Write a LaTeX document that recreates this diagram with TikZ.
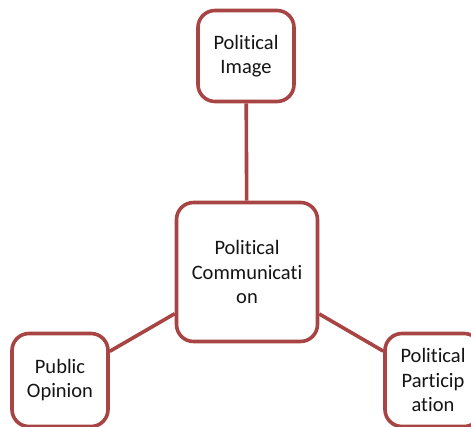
\documentclass[tikz,border=0pt]{standalone}
\usepackage{fontspec}
\setmainfont[Ligatures={NoCommon}]{Carlito}
\definecolor{boxred}{HTML}{A84444}
\definecolor{txt}{HTML}{141414}
\begin{document}
\begin{tikzpicture}[x=1pt,y=-1pt,
  bubble/.style={draw=boxred, line width=3.6pt, rounded corners=17pt, fill=white,
    inner sep=0pt, align=center, text=txt,
    font=\fontsize{20.5}{24.5}\selectfont},
  link/.style={draw=boxred, line width=3.6pt}]
\useasboundingbox (0,0) rectangle (471,427);
\clip (0,0) rectangle (471,427);
\node[bubble, minimum width=96pt, minimum height=91pt] (img) at (246,56) {Political\\Image};
\node[bubble, minimum width=141pt, minimum height=139pt] (com) at (247,272) {Political\\Communicati\\on};
\node[bubble, minimum width=96pt, minimum height=93pt] (pub) at (60,380) {Public\\Opinion};
\node[bubble, minimum width=96pt, minimum height=93pt] (par) at (433,380) {Political\\Particip\\ation};
\draw[link] (img) -- (com);
\draw[link] (com) -- (pub);
\draw[link] (com) -- (par);
\end{tikzpicture}
\end{document}
